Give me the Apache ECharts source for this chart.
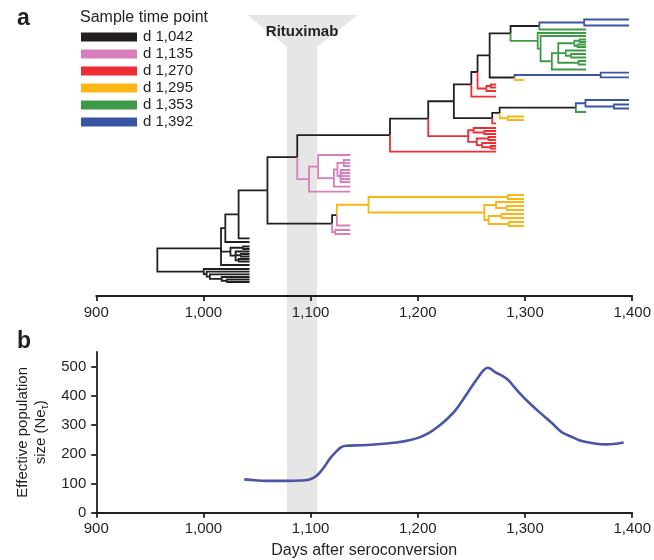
<!DOCTYPE html>
<html><head><meta charset="utf-8">
<script src="https://cdn.jsdelivr.net/npm/echarts@6/dist/echarts.min.js"></script>
<style>html,body{margin:0;padding:0;background:#fff}#c{width:654px;height:560px}</style>
</head><body><div id="c"></div>
<script>
const FONT = '"Liberation Sans", Arial, Helvetica, sans-serif';
const INK = '#231f20';

// Sample time points (legend)
const sampleLabels = ['d 1,042', 'd 1,135', 'd 1,270', 'd 1,295', 'd 1,353', 'd 1,392'];
const sampleColors = ['#231f20', '#d67fba', '#ed2f35', '#fdb515', '#3f9a47', '#3b55a4'];
// day at which the tips of each sample end in the tree
const tipDays = [1043, 1137, 1273, 1299, 1357, 1397];

// internal nodes: [id, parent, day, sample colour index]
const internalNodes = [
  ['R', null, 957, 0], ['A', 'R', 1016.4, 0], ['L', 'R', 1000.3, 0],
  ['A1', 'A', 1020.4, 0], ['C', 'A1', 1032.8, 0], ['D', 'C', 1059.7, 0],
  ['E', 'D', 1087.5, 0], ['F', 'D', 1120, 0], ['F1', 'F', 1124.5, 0], ['P0', 'F', 1123, 1],
  ['O2', 'F1', 1154, 3], ['O3', 'O2', 1284, 3], ['O4', 'O2', 1262, 3], ['O5', 'O4', 1273, 3],
  ['O6', 'O5', 1283, 3], ['O7', 'O4', 1266, 3], ['O8', 'O7', 1278, 3], ['O9', 'O7', 1285, 3],
  ['P1', 'E', 1098.5, 1], ['P2', 'P1', 1107, 1], ['P3', 'P2', 1121.7, 1], ['P4', 'P3', 1125, 1],
  ['P5', 'P4', 1131, 1], ['P6', 'P4', 1128, 1],
  ['N1', 'E', 1174, 0], ['N2', 'N1', 1209.7, 0],
  ['R1', 'N2', 1246.9, 2], ['R2', 'R1', 1252, 2], ['R3', 'R2', 1262, 2], ['R4', 'R1', 1255, 2],
  ['R5', 'R4', 1266, 2], ['R6', 'R4', 1260, 2], ['R7', 'R6', 1268, 2],
  ['N3', 'N2', 1233.6, 0], ['N4', 'N3', 1249.9, 0], ['N5', 'N4', 1255.7, 0],
  ['R8', 'N5', 1264, 2], ['R9', 'R8', 1268, 2],
  ['T0', 'N5', 1267, 0], ['T1', 'T0', 1286.5, 0], ['T2', 'T0', 1290.2, 0], ['B3', 'T2', 1370.6, 5],
  ['T3', 'T1', 1313.4, 0], ['B4', 'T3', 1355.2, 5],
  ['G0', 'T1', 1311.8, 4], ['G1', 'G0', 1314.5, 4], ['G2', 'G1', 1325, 4], ['G3', 'G2', 1331, 4],
  ['G5', 'G3', 1346, 4], ['G9', 'G5', 1351, 4], ['G10', 'G5', 1349, 4],
  ['G6', 'G3', 1338, 4], ['G7', 'G6', 1343, 4], ['G8', 'G3', 1350, 4],
  ['N6', 'N3', 1269.4, 0], ['N7', 'N6', 1276.3, 0], ['N8', 'N7', 1347.4, 0],
  ['B1', 'N8', 1356.4, 5], ['B2', 'B1', 1383, 5], ['O1', 'N7', 1284, 3],
  ['A3', 'A', 1025.2, 0], ['A4', 'A3', 1037, 0], ['A5', 'A3', 1030, 0], ['A6', 'A5', 1035, 0], ['A7', 'A5', 1033, 0],
  ['L1', 'L', 1003, 0], ['L2', 'L1', 1006, 0], ['L3', 'L2', 1017, 0], ['L4', 'L3', 1022, 0]
];
// tips: [parent, sample colour index, vertical tip position]
const tips = [
  ['B4', 5, 19.5], ['B4', 5, 25.5], ['T3', 4, 29.5], ['G0', 4, 33], ['G1', 4, 36],
  ['G9', 4, 39.5], ['G9', 4, 42], ['G10', 4, 44.5], ['G10', 4, 47], ['G6', 4, 50.5],
  ['G7', 4, 54], ['G7', 4, 57.5], ['G8', 4, 61], ['G8', 4, 64.5], ['G2', 4, 69.5],
  ['B3', 5, 72.7], ['B3', 5, 77.3], ['T2', 3, 80],
  ['R9', 2, 84.5], ['R9', 2, 87.5], ['R8', 2, 91], ['N4', 2, 96.7],
  ['B1', 5, 100], ['B2', 5, 104.5], ['B2', 5, 108.5], ['N8', 4, 112],
  ['O1', 3, 116.5], ['O1', 3, 120], ['N6', 2, 123.3],
  ['R2', 2, 128], ['R3', 2, 131], ['R3', 2, 134], ['R5', 2, 137], ['R5', 2, 140],
  ['R6', 2, 143], ['R7', 2, 146], ['R7', 2, 148.5], ['N1', 2, 151.7],
  ['P2', 1, 155], ['P5', 1, 160], ['P5', 1, 163], ['P5', 1, 166],
  ['P6', 1, 170], ['P6', 1, 173], ['P6', 1, 176], ['P6', 1, 179], ['P6', 1, 182],
  ['P3', 1, 186.7], ['P1', 1, 191.7],
  ['O3', 3, 195], ['O3', 3, 199], ['O5', 3, 202], ['O6', 3, 206], ['O6', 3, 210],
  ['O8', 3, 214], ['O8', 3, 218], ['O9', 3, 222], ['O9', 3, 226],
  ['F1', 1, 225.5], ['P0', 1, 230], ['P0', 1, 234],
  ['C', 0, 238.3], ['A1', 0, 242], ['A4', 0, 246.5], ['A4', 0, 249], ['A5', 0, 251.5],
  ['A6', 0, 254], ['A6', 0, 256.5], ['A7', 0, 259], ['A7', 0, 261.5], ['A', 0, 265],
  ['L', 0, 269], ['L1', 0, 271.7], ['L2', 0, 274.3], ['L3', 0, 277], ['L4', 0, 279.5], ['L4', 0, 282]
];

const rituximabWindow = [1077, 1105];
const rituximabFunnel = [1040, 1143];

// Panel b: effective population size
const neDays = [1038, 1048, 1058, 1070, 1080, 1090, 1097, 1103, 1108, 1113, 1118, 1124, 1129, 1133, 1148, 1165, 1180, 1192, 1201, 1210, 1219, 1227, 1235, 1243, 1250, 1256, 1261, 1265, 1268, 1272, 1278, 1284, 1290, 1296, 1305, 1315, 1325, 1334, 1340, 1345, 1350, 1356, 1365, 1375, 1385, 1392];
const neValues = [114, 111, 109, 109, 109, 110, 112, 120, 135, 158, 185, 210, 225, 229, 231, 235, 240, 248, 257, 272, 295, 320, 350, 392, 430, 462, 486, 496, 492, 481, 470, 455, 430, 405, 372, 339, 307, 276, 265, 257, 249, 243, 237, 234, 236, 240];
const neTicks = [0, 100, 200, 300, 400, 500];

// ---- build tree ----
const nodes = {};
internalNodes.forEach(([id, parent, day, col]) => { nodes[id] = { id, parent, day, col, pos: null, children: [] }; });
tips.forEach(([parent, col, pos], i) => { nodes['tip' + i] = { id: 'tip' + i, parent, day: tipDays[col], col, pos, children: [] }; });
Object.values(nodes).forEach(n => { if (n.parent) nodes[n.parent].children.push(n); });
function place(n) {
  if (n.pos === null) {
    n.children.forEach(place);
    n.pos = n.children.reduce((s, c) => s + c.pos, 0) / n.children.length;
  }
}
place(nodes.R);
const branches = sampleLabels.map(() => []);
Object.values(nodes).forEach(n => {
  if (!n.parent) return;
  const p = nodes[n.parent];
  branches[n.col].push({ coords: [[p.day, p.pos], [p.day, n.pos], [n.day, n.pos]] });
});

const fmt = v => v >= 1000 ? String(v).replace(/(\d)(\d{3})$/, '$1,$2') : String(v);

const chart = echarts.init(document.getElementById('c'), null, { renderer: 'canvas' });
const L = 96.25, Rr = 19;
const axisLineStyle = { color: INK, width: 1.8 };
const xAxisCommon = {
  type: 'value', min: 900, max: 1400, interval: 100,
  axisLine: { onZero: false, lineStyle: axisLineStyle },
  axisTick: { length: 5, lineStyle: axisLineStyle },
  splitLine: { show: false },
  axisLabel: { formatter: fmt, fontSize: 15, color: INK, fontFamily: FONT, margin: 9 }
};

const series = [];
// rituximab band
series.push({
  type: 'custom', xAxisIndex: 2, yAxisIndex: 2, z: 0, silent: true,
  data: [[0]],
  renderItem: (params, api) => {
    const pts = [
      api.coord([rituximabFunnel[0], 1]), api.coord([rituximabFunnel[1], 1]),
      api.coord([rituximabWindow[1], 0.936]), api.coord([rituximabWindow[1], 0]),
      api.coord([rituximabWindow[0], 0]), api.coord([rituximabWindow[0], 0.936])
    ];
    const t = api.coord([(rituximabWindow[0] + rituximabWindow[1]) / 2, 0.967]);
    return {
      type: 'group', children: [
        { type: 'polygon', shape: { points: pts }, style: { fill: '#e6e6e6' } },
        { type: 'text', x: t[0], y: t[1], style: { text: 'Rituximab', fontSize: 15, fontWeight: 'bold', fontFamily: FONT, fill: INK, align: 'center', verticalAlign: 'middle' } }
      ]
    };
  }
});
sampleLabels.forEach((name, i) => {
  series.push({
    name, type: 'lines', coordinateSystem: 'cartesian2d', xAxisIndex: 0, yAxisIndex: 0,
    polyline: true, silent: true, z: 3,
    lineStyle: { color: sampleColors[i], width: 1.8, opacity: 1 },
    data: branches[i]
  });
});
series.push({
  name: 'Ne', type: 'line', xAxisIndex: 1, yAxisIndex: 1, smooth: 0.35, symbol: 'none', z: 3,
  lineStyle: { color: '#4a55a8', width: 2.6 },
  data: neDays.map((d, i) => [d, neValues[i]])
});

chart.setOption({
  animation: false,
  backgroundColor: '#fff',
  textStyle: { fontFamily: FONT },
  title: { text: 'Sample time point', left: 80, top: 10, padding: 0, textStyle: { fontSize: 16, fontWeight: 'normal', color: INK, fontFamily: FONT } },
  legend: {
    data: sampleLabels, orient: 'vertical', left: 81, top: 28.5, padding: 0,
    itemWidth: 54, itemHeight: 7, itemGap: 0, icon: 'rect', selectedMode: false,
    textStyle: { fontSize: 15, lineHeight: 17, color: INK, fontFamily: FONT, padding: [0, 0, 0, 2] }
  },
  graphic: [
    { type: 'text', left: 17, top: 7, style: { text: 'a', fontSize: 23, fontWeight: 'bold', fill: INK, fontFamily: FONT } },
    { type: 'text', left: 17, top: 330, style: { text: 'b', fontSize: 23, fontWeight: 'bold', fill: INK, fontFamily: FONT } }
  ],
  grid: [
    { left: L, right: Rr, top: 15, height: 281 },
    { left: L, right: Rr, top: 352, height: 160.7 },
    { left: L, right: Rr, top: 15, height: 497.7 }
  ],
  xAxis: [
    Object.assign({ gridIndex: 0, z: 5 }, xAxisCommon),
    Object.assign({ gridIndex: 1, z: 5, name: 'Days after seroconversion', nameLocation: 'middle', nameGap: 30,
      nameTextStyle: { fontSize: 16, color: INK, fontFamily: FONT } }, xAxisCommon),
    { gridIndex: 2, type: 'value', min: 900, max: 1400, show: false }
  ],
  yAxis: [
    { gridIndex: 0, type: 'value', min: 15, max: 296, inverse: true, show: false },
    { gridIndex: 1, type: 'value', min: 0, max: 550, interval: 100, z: 5,
      axisLine: { show: true, lineStyle: axisLineStyle },
      axisTick: { show: true, length: 5, lineStyle: axisLineStyle, customValues: neTicks },
      splitLine: { show: false },
      axisLabel: { fontSize: 15, color: INK, fontFamily: FONT, margin: 10, customValues: neTicks },
      name: 'Effective population\nsize (Ne{sub|τ})', nameLocation: 'middle', nameRotate: 90, nameGap: 44,
      nameTextStyle: { fontSize: 15, lineHeight: 18, color: INK, fontFamily: FONT, align: 'center',
        rich: { sub: { fontSize: 10, padding: [7, 0, 0, 0], color: INK, fontFamily: FONT } } }
    },
    { gridIndex: 2, type: 'value', min: 0, max: 1, show: false }
  ],
  series
});
</script></body></html>
